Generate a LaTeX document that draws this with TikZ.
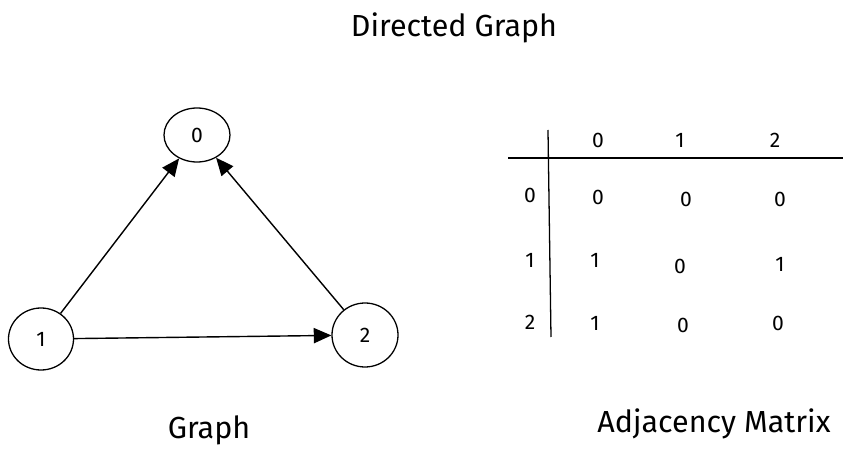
\documentclass[tikz,border=0pt]{standalone}
\usepackage{fontspec}
\setmainfont{Fira Sans}
\usetikzlibrary{arrows.meta,shapes.geometric}
\def\big{\fontsize{26}{30}\selectfont}
\def\dig{\fontsize{18}{21}\selectfont}
\tikzset{
  vertex/.style={draw,ellipse,line width=1.1pt,inner sep=0pt,font=\dig},
  edge/.style={line width=1.2pt,-{Triangle[length=15pt,width=13pt]}},
  cell/.style={font=\dig},
  caption/.style={font=\big}
}

\begin{document}
\begin{tikzpicture}[x=0.03cm,y=-0.03cm]
    \useasboundingbox (0,0) rectangle (854,454);
    % the graph
    \node[vertex,minimum width=1.98cm,minimum height=1.62cm] (v0) at (197,135) {0};
    \node[vertex,minimum width=1.95cm,minimum height=1.86cm] (v1) at (41,339) {1};
    \node[vertex,minimum width=1.98cm,minimum height=1.92cm] (v2) at (365,335) {2};
    \draw[edge] (v1) -- (v0);
    \draw[edge] (v2) -- (v0);
    \draw[edge] (v1) -- (v2);
    % the matrix
    \coordinate (hl) at (508,158);
    \coordinate (hr) at (843,158);
    \coordinate (vt) at (548,130);
    \coordinate (vb) at (551,337);
    \draw[line width=1.1pt] (hl) -- (hr);
    \draw[line width=1.1pt] (vt) -- (vb);
    \node[cell] (c0) at (598,140) {0};
    \node[cell] (c1) at (680,140) {1};
    \node[cell] (c2) at (775,140) {2};
    \node[cell] (r0) at (530,195) {0};
    \node[cell] (r1) at (530,260) {1};
    \node[cell] (r2) at (530,322) {2};
    \node[cell] (m00) at (598,197) {0};
    \node[cell] (m01) at (686,199) {0};
    \node[cell] (m02) at (780,199) {0};
    \node[cell] (m10) at (595,260) {1};
    \node[cell] (m11) at (680,266) {0};
    \node[cell] (m12) at (780,264) {1};
    \node[cell] (m20) at (595,323) {1};
    \node[cell] (m21) at (683,325) {0};
    \node[cell] (m22) at (778,323) {0};
    % captions
    \node[caption] (title) at (454,28) {Directed Graph};
    \node[caption] (gcap) at (209,430) {Graph};
    \node[caption] (mcap) at (714,424) {Adjacency Matrix};
\end{tikzpicture}
\end{document}
